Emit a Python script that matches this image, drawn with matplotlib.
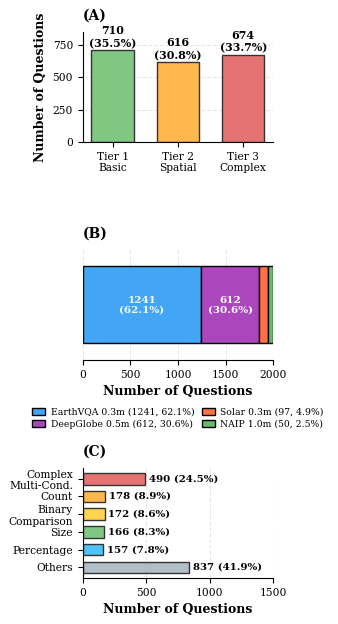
import matplotlib
matplotlib.use("Agg")
import matplotlib.pyplot as plt
import numpy as np

plt.rcParams['font.family'] = ['DejaVu Serif']

# data
tier_labels = ['Tier 1\nBasic', 'Tier 2\nSpatial', 'Tier 3\nComplex']
tier_counts = [710, 616, 674]
tier_colors = ['#81C784', '#FFB74D', '#E57373']

src_names = ['EarthVQA 0.3m', 'DeepGlobe 0.5m', 'Solar 0.3m', 'NAIP 1.0m']
src_counts = [1241, 612, 97, 50]
src_colors = ['#42A5F5', '#AB47BC', '#FF7043', '#66BB6A']

type_labels = ['Complex\nMulti-Cond.', 'Count', 'Binary\nComparison', 'Size', 'Percentage', 'Others']
type_counts = [490, 178, 172, 166, 157, 837]
type_colors = ['#E57373', '#FFB74D', '#FFD54F', '#81C784', '#4FC3F7', '#B0BEC5']

total = sum(tier_counts)
edge = '#333333'
tick_fs = 7.7

fig = plt.figure(figsize=(3.38, 6.24), dpi=100)

# (A) tiers
ax1 = fig.add_axes([0.245, 0.7724, 0.563, 0.1763])
x = np.arange(len(tier_counts))
ax1.bar(x, tier_counts, width=0.65, color=tier_colors, edgecolor=edge, linewidth=1)
for i, v in enumerate(tier_counts):
    ax1.text(i, v + 12, f'{v}\n({v / total * 100:.1f}%)', ha='center', va='bottom',
             fontsize=7.9, fontweight='bold', linespacing=1.2)
ax1.set_xticks(x)
ax1.set_xticklabels(tier_labels, fontsize=tick_fs)
ax1.set_ylim(0, max(tier_counts) * 1.2)
ax1.set_yticks([0, 250, 500, 750])
ax1.tick_params(axis='y', labelsize=tick_fs)
ax1.set_ylabel('Number of Questions', fontsize=9, fontweight='bold')
ax1.set_title('(A)', loc='left', fontsize=10, fontweight='bold', pad=9)
ax1.yaxis.grid(True, linestyle='--', alpha=0.3)
ax1.set_axisbelow(True)
ax1.spines['top'].set_visible(False)
ax1.spines['right'].set_visible(False)

# (B) sources, stacked
ax2 = fig.add_axes([0.245, 0.4231, 0.563, 0.1763])
left = 0
for name, v, c in zip(src_names, src_counts, src_colors):
    ax2.barh(0, v, left=left, height=0.7, color=c, edgecolor='black', linewidth=1,
             label=f'{name} ({v}, {v / total * 100:.1f}%)')
    if v > 200:
        ax2.text(left + v / 2, 0, f'{v}\n({v / total * 100:.1f}%)', ha='center', va='center',
                 color='white', fontsize=7.5, fontweight='bold', linespacing=1.1)
    left += v
ax2.set_xlim(0, total)
ax2.set_ylim(-0.5, 0.5)
ax2.set_yticks([])
ax2.tick_params(axis='x', labelsize=tick_fs)
ax2.set_xlabel('Number of Questions', fontsize=9, fontweight='bold')
ax2.set_title('(B)', loc='left', fontsize=10, fontweight='bold', pad=9)
ax2.xaxis.grid(True, linestyle='--', alpha=0.3)
ax2.set_axisbelow(True)
for s in ['top', 'right', 'left']:
    ax2.spines[s].set_visible(False)
ax2.legend(loc='upper center', bbox_to_anchor=(0.5, -0.36), ncol=2, frameon=False,
           fontsize=6.7, handlelength=1.4, handleheight=0.8, columnspacing=0.8,
           labelspacing=0.3, handletextpad=0.6)

# (C) question types
ax3 = fig.add_axes([0.245, 0.0737, 0.563, 0.1763])
y = np.arange(len(type_counts))
ax3.barh(y, type_counts, height=0.65, color=type_colors, edgecolor=edge, linewidth=1)
for i, v in enumerate(type_counts):
    ax3.text(v + 30, i, f'{v} ({v / total * 100:.1f}%)', ha='left', va='center',
             fontsize=7.4, fontweight='bold')
ax3.set_yticks(y)
ax3.set_yticklabels(type_labels, fontsize=tick_fs)
ax3.invert_yaxis()
ax3.set_xlim(0, 1500)
ax3.set_xticks([0, 500, 1000, 1500])
ax3.tick_params(axis='x', labelsize=tick_fs)
ax3.set_xlabel('Number of Questions', fontsize=9, fontweight='bold')
ax3.set_title('(C)', loc='left', fontsize=10, fontweight='bold', pad=9)
ax3.xaxis.grid(True, linestyle='--', alpha=0.3)
ax3.set_axisbelow(True)
ax3.spines['top'].set_visible(False)
ax3.spines['right'].set_visible(False)

fig.savefig('out.png', dpi=100)
